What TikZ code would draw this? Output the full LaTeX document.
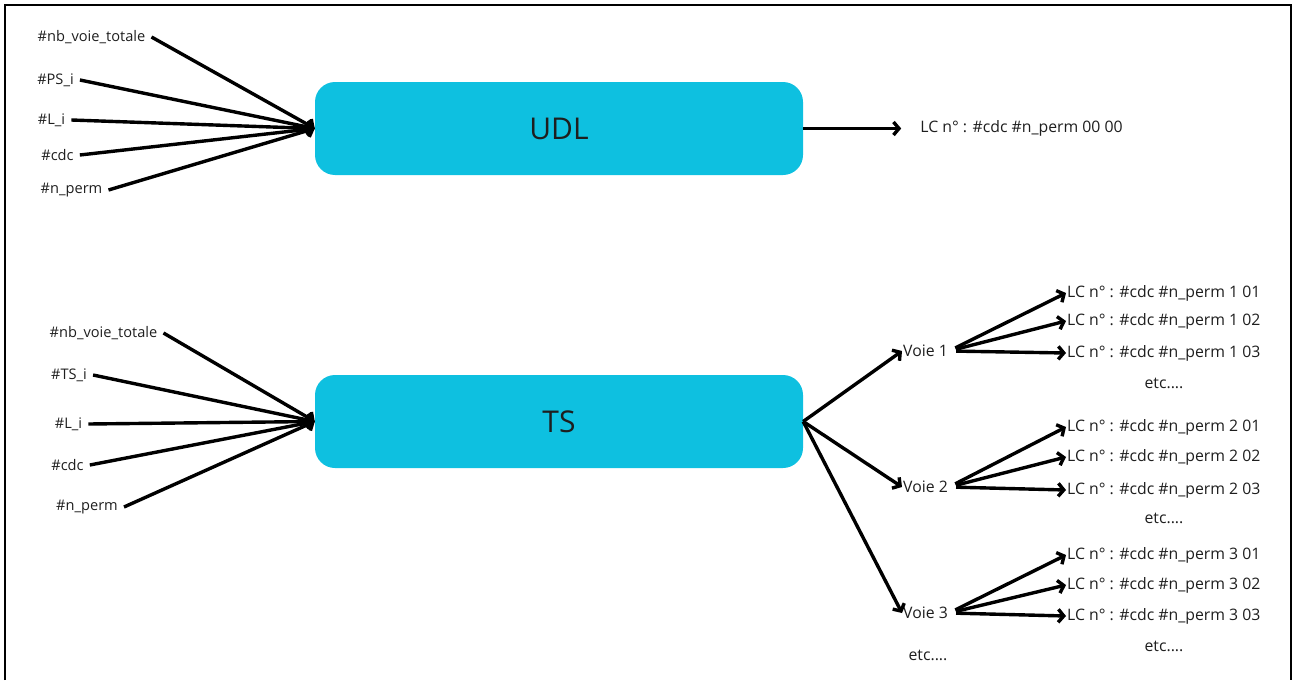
\documentclass[tikz,border=0pt]{standalone}
\usepackage{fontspec}
\setmainfont{Open Sans}
\usepackage{tikz}
\usetikzlibrary{positioning, arrows.meta}
\definecolor{boxcyan}{RGB}{14,192,224}
\definecolor{txt}{RGB}{30,30,30}
\tikzstyle{arrow} = [line width=3.4pt,-{Straight Barb[length=5.5pt,width=13pt]}]

\begin{document}
\begin{tikzpicture}[
    x=1pt, y=-1pt,
    block/.style={rectangle, rounded corners=20pt, fill=boxcyan, minimum width=488pt, minimum height=93pt, font=\fontsize{30}{36}\selectfont, text=txt},
    inp/.style={font=\fontsize{14.6}{17}\selectfont, text=txt, inner xsep=6pt, inner ysep=1pt},
    lbl/.style={font=\fontsize{15.8}{18}\selectfont, text=txt, inner xsep=1pt, inner ysep=1pt, anchor=west}
  ]
  \useasboundingbox (0,0) rectangle (1293,680);
  \draw[line width=2pt] (5,680) -- (5,5) -- (1291,5) -- (1291,680);

  % UDL
  \node[block] (udl) at (559,128.5) {UDL};
  \node[inp] (u1) at (91.5,37) {\#nb\_voie\_totale};
  \node[inp] (u2) at (55.5,80) {\#PS\_i};
  \node[inp] (u3) at (51.5,120) {\#L\_i};
  \node[inp] (u4) at (57.5,155) {\#cdc};
  \node[inp] (u5) at (71.5,190) {\#n\_perm};
  \draw[arrow] (u1.east) -- (udl.west);
  \draw[arrow] (u2.east) -- (udl.west);
  \draw[arrow] (u3.east) -- (udl.west);
  \draw[arrow] (u4.east) -- (udl.west);
  \draw[arrow] (u5.east) -- (udl.west);
  \node[lbl, right=115pt of udl, inner xsep=2pt] (lc0) {LC n° : \#cdc \#n\_perm 00 00};
  \draw[arrow, shorten >=17pt] (udl.east) -- (lc0.west);

  % TS
  \node[block] (ts) at (559,421.5) {TS};
  \node[inp] (t1) at (103.5,333) {\#nb\_voie\_totale};
  \node[inp] (t2) at (69,375) {\#TS\_i};
  \node[inp] (t3) at (68.5,424) {\#L\_i};
  \node[inp] (t4) at (67.5,465) {\#cdc};
  \node[inp] (t5) at (87,507) {\#n\_perm};
  \draw[arrow] (t1.east) -- (ts.west);
  \draw[arrow] (t2.east) -- (ts.west);
  \draw[arrow] (t3.east) -- (ts.west);
  \draw[arrow] (t4.east) -- (ts.west);
  \draw[arrow] (t5.east) -- (ts.west);

  \node[lbl] (v1) at (902,351) {Voie 1};
  \node[lbl] (v2) at (902,487) {Voie 2};
  \node[lbl] (v3) at (902,613) {Voie 3};
  \node[lbl, anchor=center] (vetc) at (928,655) {etc....};
  \draw[arrow] (ts.east) -- (v1.west);
  \draw[arrow] (ts.east) -- (v2.west);
  \draw[arrow] (ts.east) -- (v3.west);

  % voie 1
  \node[lbl] (lc11) at (1066,293) {LC n° : \#cdc \#n\_perm 1 01};
  \node[lbl] (lc12) at (1066,321) {LC n° : \#cdc \#n\_perm 1 02};
  \node[lbl] (lc13) at (1066,353) {LC n° : \#cdc \#n\_perm 1 03};
  \node[lbl, anchor=center] (etc1) at (1164,383) {etc....};
  \draw[arrow, shorten <=7pt] (v1.east) -- (lc11.west);
  \draw[arrow, shorten <=7pt] (v1.east) -- (lc12.west);
  \draw[arrow, shorten <=7pt] (v1.east) -- (lc13.west);

  % voie 2
  \node[lbl] (lc21) at (1066,427) {LC n° : \#cdc \#n\_perm 2 01};
  \node[lbl] (lc22) at (1066,457) {LC n° : \#cdc \#n\_perm 2 02};
  \node[lbl] (lc23) at (1066,490) {LC n° : \#cdc \#n\_perm 2 03};
  \node[lbl, anchor=center] (etc2) at (1164,518) {etc....};
  \draw[arrow, shorten <=7pt] (v2.east) -- (lc21.west);
  \draw[arrow, shorten <=7pt] (v2.east) -- (lc22.west);
  \draw[arrow, shorten <=7pt] (v2.east) -- (lc23.west);

  % voie 3
  \node[lbl] (lc31) at (1066,555) {LC n° : \#cdc \#n\_perm 3 01};
  \node[lbl] (lc32) at (1066,585) {LC n° : \#cdc \#n\_perm 3 02};
  \node[lbl] (lc33) at (1066,616) {LC n° : \#cdc \#n\_perm 3 03};
  \node[lbl, anchor=center] (etc3) at (1164,646) {etc....};
  \draw[arrow, shorten <=7pt] (v3.east) -- (lc31.west);
  \draw[arrow, shorten <=7pt] (v3.east) -- (lc32.west);
  \draw[arrow, shorten <=7pt] (v3.east) -- (lc33.west);

\end{tikzpicture}
\end{document}
